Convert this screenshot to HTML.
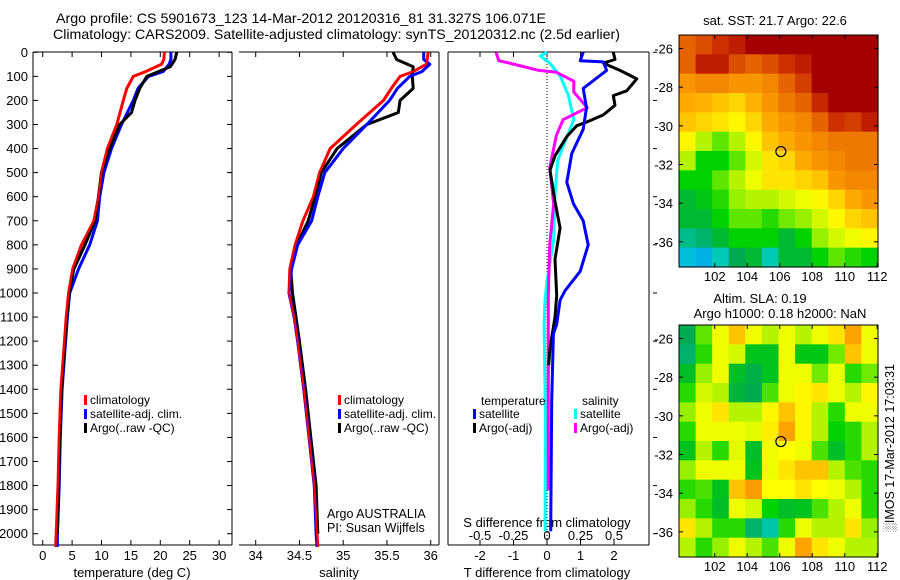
<!DOCTYPE html>
<html><head><meta charset="utf-8"><style>
body{margin:0;background:#fff}
svg{display:block;font-family:"Liberation Sans",sans-serif}
text{fill:#000}
</style></head><body>
<svg id="fig" width="900" height="580" viewBox="0 0 900 580" xmlns="http://www.w3.org/2000/svg">
<text x="56" y="23" font-size="14" textLength="490" lengthAdjust="spacingAndGlyphs">Argo profile: CS 5901673_123 14-Mar-2012 20120316_81 31.327S 106.071E</text>
<text x="53" y="39" font-size="14" textLength="567" lengthAdjust="spacingAndGlyphs">Climatology: CARS2009. Satellite-adjusted climatology: synTS_20120312.nc (2.5d earlier)</text>
<g id="g"></g>
</svg>
<script>
// ---------- data ----------
const tDepth=[0,30,50,80,100,150,200,300,400,500,600,700,800,900,1000,1100,1200,1400,1600,1800,2000,2055];
const tClim=[20.7,20.6,20.2,17.5,15.4,14.3,13.7,12.6,11,10,9.5,8.7,6.6,5.1,4.4,4.0,3.7,3.1,2.8,2.6,2.3,2.2];
const tSat=[21.8,21.8,21.5,20.5,18,16.2,15.4,13.4,11.7,10.4,9.7,9.3,8,6.1,4.6,4.2,3.9,3.3,3.0,2.8,2.5,2.5];
const aDepth=[0,30,60,100,150,200,250,300,400,500,600,700,800,900,1000,1100,1200,1400,1600,1800,2000];
const tArgo=[22.8,22.5,21.7,17.7,16.5,15.7,15.1,13.1,11.4,10,9.5,8.9,7.2,5.3,4.5,4.1,3.8,3.2,2.9,2.7,2.5];
const sClim=[35.97,35.96,35.95,35.8,35.65,35.55,35.46,35.15,34.85,34.73,34.66,34.54,34.45,34.39,34.38,34.44,34.48,34.55,34.61,34.67,34.7,34.71];
const sSat=[35.92,35.92,35.99,35.9,35.76,35.62,35.53,35.27,35.0,34.79,34.71,34.64,34.48,34.41,34.38,34.44,34.48,34.55,34.61,34.67,34.69,34.7];
const sArgo=[35.57,35.61,35.8,35.79,35.8,35.65,35.63,35.27,34.93,34.75,34.68,34.6,34.47,34.4,34.42,34.46,34.5,34.57,34.63,34.69,34.71];
const dtSatDepth=[0,35,40,75,150,230,320,420,540,630,700,800,910,990,1030,1130,1170,1450,1990];
const dtSat=[1.08,0.99,1.68,1.78,1.08,1.18,1.08,0.74,0.59,0.79,1.08,1.23,0.99,0.54,0.39,0.29,0.19,0.14,0.11];
const dtArgoDepth=[0,30,45,75,110,160,180,220,260,290,305,350,430,490,620,730,860,1010,1100,1230,1300];
const dtArgo=[1.98,2.03,1.68,2.18,2.68,2.38,1.98,2.03,1.68,1.18,0.89,0.59,0.24,0.09,0.24,0.39,0.24,0.29,0.24,0.09,0.05];
const dsArgoDepth=[0,35,45,75,83,120,165,230,280,345,480,630,800,1010,1170,1820];
const dsArgo=[-0.38,-0.36,-0.28,-0.06,0.07,0.2,0.2,0.3,0.12,0.07,0.02,0.05,0.02,0.01,0.01,0.01];
const dsSatDepth=[0,15,45,100,180,280,350,450,590,780,950,1030,1130,1500,1990];
const dsSat=[0,-0.05,0.02,0.1,0.16,0.2,0.15,0.08,0.06,0.05,0,-0.015,-0.022,-0.012,-0.014];
const depthTicks=[0,100,200,300,400,500,600,700,800,900,1000,1100,1200,1300,1400,1500,1600,1700,1800,1900,2000];
const tTicks=[0,5,10,15,20,25,30];
const sTicks=[34,34.5,35,35.5,36];
const sTickLabels=["34","34.5","35","35.5","36"];
const dtTicks=[-2,-1,0,1,2];
const dsTicks=[-0.5,-0.25,0,0.25,0.5];
const dsTickLabels=["-0.5","-0.25","0","0.25","0.5"];
const latTicks=[-26,-28,-30,-32,-34,-36];
const lonTicks=[102,104,106,108,110,112];
const sstGrid=[
[0.85,0.88,0.92,0.95,1,1,1,1,1,1,1,1],
[0.85,0.95,0.95,0.88,0.85,0.88,0.92,0.95,1,1,1,1],
[0.78,0.8,0.8,0.78,0.78,0.8,0.85,0.9,1,1,1,1],
[0.75,0.74,0.72,0.7,0.74,0.78,0.82,0.85,0.93,1,1,1],
[0.72,0.7,0.68,0.66,0.7,0.75,0.78,0.8,0.85,0.92,0.9,0.95],
[0.66,0.6,0.55,0.6,0.66,0.72,0.75,0.78,0.8,0.82,0.82,0.82],
[0.6,0.5,0.5,0.55,0.62,0.68,0.7,0.75,0.78,0.8,0.82,0.82],
[0.5,0.5,0.55,0.6,0.64,0.68,0.68,0.7,0.72,0.78,0.8,0.8],
[0.45,0.48,0.52,0.58,0.6,0.6,0.62,0.64,0.66,0.7,0.75,0.78],
[0.45,0.45,0.5,0.55,0.55,0.52,0.56,0.58,0.62,0.66,0.7,0.72],
[0.38,0.4,0.45,0.5,0.5,0.5,0.45,0.5,0.58,0.62,0.64,0.66],
[0.3,0.28,0.35,0.42,0.45,0.35,0.45,0.45,0.5,0.55,0.52,0.5]];
const slaGrid=[
[0.42,0.55,0.64,0.72,0.64,0.6,0.64,0.6,0.64,0.68,0.76,0.64],
[0.4,0.52,0.64,0.62,0.47,0.47,0.64,0.48,0.48,0.56,0.72,0.64],
[0.46,0.58,0.64,0.46,0.43,0.47,0.64,0.64,0.56,0.64,0.52,0.56],
[0.52,0.62,0.6,0.44,0.42,0.54,0.64,0.66,0.68,0.64,0.6,0.66],
[0.58,0.64,0.68,0.6,0.6,0.66,0.72,0.66,0.6,0.52,0.64,0.64],
[0.52,0.64,0.64,0.64,0.63,0.67,0.76,0.66,0.6,0.5,0.52,0.6],
[0.47,0.6,0.52,0.63,0.46,0.64,0.65,0.64,0.54,0.46,0.52,0.6],
[0.58,0.64,0.64,0.64,0.47,0.64,0.68,0.72,0.72,0.6,0.54,0.52],
[0.52,0.54,0.47,0.72,0.77,0.65,0.65,0.68,0.65,0.64,0.6,0.52],
[0.58,0.52,0.46,0.64,0.62,0.5,0.46,0.47,0.54,0.6,0.64,0.52],
[0.68,0.6,0.52,0.52,0.4,0.36,0.52,0.64,0.6,0.6,0.68,0.58],
[0.6,0.52,0.58,0.64,0.6,0.54,0.64,0.76,0.68,0.64,0.6,0.6]];
const argoPos=[106.07,-31.33];

// ---------- helpers ----------
const NS="http://www.w3.org/2000/svg", G=document.getElementById('g');
function mk(tag,at,parent){const e=document.createElementNS(NS,tag);for(const k in at)e.setAttribute(k,at[k]);(parent||G).appendChild(e);return e;}
const yD=d=>52.3+d*0.2407;
const xT=t=>42.7+t*5.88;
const xS=s=>255.7+(s-34)*87.5;
const xDT=v=>547+v*33.5;
const xDS=v=>547+v*134;
const PB=545;
function line(x1,y1,x2,y2,name,extra){const e=mk('line',Object.assign({x1,y1,x2,y2,stroke:'#000','stroke-width':1},extra||{}));return e;}
function txt(x,y,s,name,anchor,size){const e=mk('text',{x,y,'font-size':size||13,'text-anchor':anchor||'start'});e.textContent=s;return e;}
function series(xs,ds,fx,color,name,w){const p=xs.map((v,i)=>fx(v).toFixed(1)+','+yD(ds[i]).toFixed(1)).join(' ');const e=mk('polyline',{points:p,fill:'none',stroke:color,'stroke-width':w||3,'stroke-linejoin':'round'});return e;}

// ---------- panel frames ----------
line(33,52,232,52,'temp-top-axis');line(33,PB,232,PB,'temp-bottom-axis');
line(33,52,33,PB,'temp-left-axis');line(232,52,232,PB,'temp-right-axis');
depthTicks.forEach(d=>{const y=yD(d);
 line(33,y,38,y,'depth-tick');line(227,y,232,y,'depth-tick');
 txt(28,y+4.5,String(d),'depth-tick-label','end',13);});
tTicks.forEach(t=>{const x=xT(t);line(x,52,x,57,'temp-tick');line(x,PB,x,PB-5,'temp-tick');txt(x,560,String(t),'temp-tick-label','middle',13);});
txt(132,577,'temperature (deg C)','temp-x-axis-title','middle',13);
line(239,52,439,52,'sal-top-axis');line(239,PB,439,PB,'sal-bottom-axis');line(439,52,439,PB,'sal-right-axis');
sTicks.forEach((s,i)=>{const x=xS(s);line(x,52,x,57,'sal-tick');line(x,PB,x,PB-5,'sal-tick');txt(x,560,sTickLabels[i],'sal-tick-label','middle',13);});
txt(339,577,'salinity','sal-x-axis-title','middle',13);
line(448,52,649,52,'diff-top-axis');line(448,PB,649,PB,'diff-bottom-axis');line(448,52,448,PB,'diff-left-axis');line(649,52,649,PB,'diff-right-axis');
depthTicks.forEach((d,i)=>{if(i%2==0){const y=yD(d);line(653,y,657,y,'diff-depth-tick');}});
dtTicks.forEach(v=>{const x=xDT(v);line(x,52,x,57,'dt-tick');line(x,PB,x,PB-5,'dt-tick');txt(x,560,String(v),'dt-tick-label','middle',13);});
dsTicks.forEach((v,i)=>txt(xDS(v),540,dsTickLabels[i],'ds-tick-label','middle',13));
txt(547,527,'S difference from climatology','ds-axis-title','middle',13);
txt(547,577,'T difference from climatology','dt-axis-title','middle',13);
line(547,52,547,PB,'zero-line',{'stroke-dasharray':'1,2'});

// ---------- series ----------
series(tClim,tDepth,xT,'#f00','temp-climatology-line');
series(tSat,tDepth,xT,'#00f','temp-satellite-line');
series(tArgo,aDepth,xT,'#000','temp-argo-line');
series(tClim,tDepth,xT,'#f00','temp-climatology-line-top',2);
series(sClim,tDepth,xS,'#f00','sal-climatology-line');
series(sArgo,aDepth,xS,'#000','sal-argo-line');
series(sSat,tDepth,xS,'#00f','sal-satellite-line');
series(sClim,tDepth,xS,'#f00','sal-climatology-line-top',2);
series(dsSat,dsSatDepth,xDS,'#0ff','sal-diff-satellite-line');
series(dsArgo,dsArgoDepth,xDS,'#f0f','sal-diff-argo-line');
series(dtArgo,dtArgoDepth,xDT,'#000','temp-diff-argo-line');
series(dtSat,dtSatDepth,xDT,'#00f','temp-diff-satellite-line');

// ---------- legends ----------
function leg(x,y,c,s,name){const r=mk('rect',{x:x,y:y-9,width:3,height:10,fill:c});txt(x+6,y,s,name,'start',12);}
leg(84,404,'#f00','climatology','legend-climatology');leg(84,418,'#00f','satellite-adj. clim.','legend-satellite-adj');leg(84,432,'#000','Argo(..raw -QC)','legend-argo');
leg(338,404,'#f00','climatology','legend-climatology');leg(338,418,'#00f','satellite-adj. clim.','legend-satellite-adj');leg(338,432,'#000','Argo(..raw -QC)','legend-argo');
txt(481,405,'temperature','legend-temperature-header','start',12);
txt(582,405,'salinity','legend-salinity-header','start',12);
leg(473,418,'#00f','satellite','legend-temp-satellite');leg(473,432,'#000','Argo(-adj)','legend-temp-argo');
leg(574,418,'#0ff','satellite','legend-sal-satellite');leg(574,432,'#f0f','Argo(-adj)','legend-sal-argo');
txt(327,518,'Argo AUSTRALIA','argo-institution','start',12.5);
txt(327,532,'PI: Susan Wijffels','principal-investigator','start',12.5);

// ---------- maps ----------
const cmStops=[0,0.2,0.33,0.42,0.5,0.58,0.65,0.75,0.85,0.93,1.0];
const cmCols=[[0,0,140],[0,120,255],[0,210,210],[0,170,80],[0,210,0],[150,240,0],[255,255,0],[255,170,0],[230,100,0],[200,40,0],[165,0,0]];
function cmap(t){t=Math.max(0,Math.min(1,t));let i=0;while(i<cmStops.length-2&&t>cmStops[i+1])i++;
 const f=(t-cmStops[i])/(cmStops[i+1]-cmStops[i]);const a=cmCols[i],b=cmCols[i+1];
 return `rgb(${a.map((v,k)=>Math.round(v+(b[k]-v)*f)).join(',')})`;}
const MX0=679,MX1=878,LON0=99.8,LON1=112.05;
const xLon=l=>MX0+(l-LON0)*(MX1-MX0)/(LON1-LON0);
function map(y0,grid,name){
 const y1=y0+232, yLat=la=>y0+(-25.3-la)*19.33;
 const rows=grid.length, cols=grid[0].length, cw=(MX1-MX0)/cols, ch=(y1-y0)/rows;
 grid.forEach((row,i)=>row.forEach((v,j)=>{const r=mk('rect',{x:(MX0+j*cw).toFixed(2),y:(y0+i*ch).toFixed(2),width:(cw+0.6).toFixed(2),height:(ch+0.6).toFixed(2),fill:cmap(v)});
  }));
 const b=mk('rect',{x:MX0,y:y0,width:MX1-MX0,height:y1-y0,fill:'none',stroke:'#000'});
 latTicks.forEach(la=>{const y=yLat(la);line(MX0,y,MX0+4,y,name+'-lat-tick');line(MX1,y,MX1-4,y,name+'-lat-tick');txt(673,y+5,String(la),name+'-lat-label','end',13);});
 lonTicks.forEach(lo=>{const x=xLon(lo);line(x,y0,x,y0+4,name+'-lon-tick');line(x,y1,x,y1-4,name+'-lon-tick');txt(x,y1+14,String(lo),name+'-lon-label','middle',13);});
 const c=mk('circle',{cx:xLon(argoPos[0]),cy:yLat(argoPos[1]),r:5,fill:'none',stroke:'#000','stroke-width':1.2});
}
map(35,sstGrid,'sst-map');
map(325,slaGrid,'sla-map');
txt(775,25,'sat. SST: 21.7 Argo: 22.6','sst-map-title','middle',13);
txt(760,303,'Altim. SLA: 0.19','sla-map-title','middle',13);
txt(780,318,'Argo h1000: 0.18 h2000: NaN','sla-map-subtitle','middle',13);
const v=txt(0,0,'\u2591IMOS 17-Mar-2012 17:03:31','imos-timestamp','middle',12.5);
v.setAttribute('transform','translate(894,448) rotate(-90)');
</script>
</body></html>
